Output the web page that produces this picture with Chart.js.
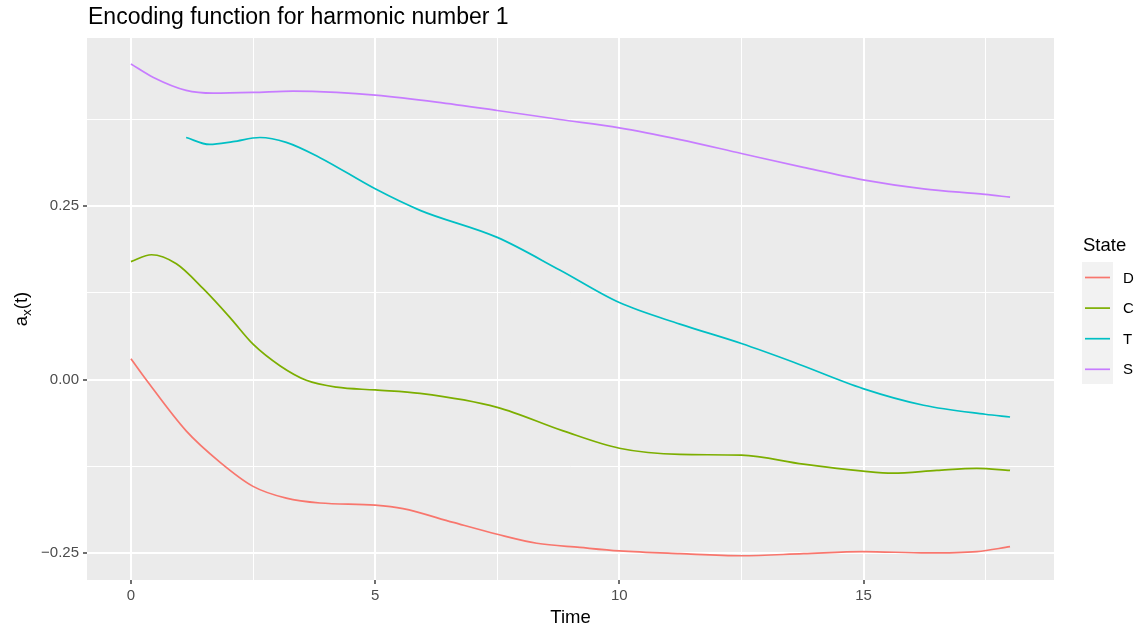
<!DOCTYPE html>
<html>
<head>
<meta charset="utf-8">
<script src="https://cdn.jsdelivr.net/npm/chart.js@4/dist/chart.umd.min.js"></script>
<style>
  html, body { margin: 0; padding: 0; background: #ffffff; }
  #chart { display: block; }
</style>
</head>
<body>
<canvas id="chart" width="1142" height="630"></canvas>
<script>
// series
const states = ['D', 'C', 'T', 'S'];
const stateColors = ['#F8766D', '#7CAE00', '#00BFC4', '#C77CFF'];

const dTime   = [0, 0.32, 1.13, 1.82, 2.5, 3.18, 3.87, 5, 5.57, 6.6, 7.5, 8.31, 9.19, 10, 11.24, 12.5, 13.77, 14.99, 16.3, 17.32, 18];
const dValues = [0.030, -0.001, -0.074, -0.119, -0.154, -0.171, -0.178, -0.181, -0.186, -0.206, -0.223, -0.236, -0.242, -0.247, -0.251, -0.254, -0.251, -0.248, -0.250, -0.248, -0.241];

const cTime   = [0, 0.42, 0.93, 1.48, 2.02, 2.5, 3.05, 3.59, 4.21, 5, 5.92, 7.5, 8.85, 10, 11.24, 12.5, 13.77, 14.99, 15.6, 16.5, 17.32, 18];
const cValues = [0.170, 0.180, 0.167, 0.131, 0.090, 0.051, 0.020, -0.001, -0.011, -0.015, -0.020, -0.040, -0.074, -0.099, -0.108, -0.109, -0.122, -0.132, -0.135, -0.131, -0.128, -0.131];

const tTime   = [1.13, 1.61, 2.09, 2.64, 3.18, 3.87, 5, 5.92, 7.5, 8.78, 10, 11.24, 12.5, 13.57, 14.99, 16.23, 17.49, 18];
const tValues = [0.349, 0.339, 0.343, 0.349, 0.342, 0.320, 0.275, 0.244, 0.205, 0.158, 0.111, 0.080, 0.052, 0.025, -0.013, -0.037, -0.050, -0.054];

const sTime   = [0, 0.45, 1.13, 1.68, 2.5, 3.32, 4.21, 5, 6.26, 7.5, 8.78, 10, 11.24, 12.5, 13.77, 14.99, 16.23, 17.49, 18];
const sValues = [0.455, 0.436, 0.417, 0.413, 0.414, 0.416, 0.414, 0.410, 0.400, 0.388, 0.375, 0.363, 0.346, 0.326, 0.306, 0.288, 0.275, 0.267, 0.263];

const seriesTimes = [dTime, cTime, tTime, sTime];
const seriesValues = [dValues, cValues, tValues, sValues];

// axis breaks (ggplot style: major + minor)
const xGrid = [0, 2.5, 5, 7.5, 10, 12.5, 15, 17.5];
const xLabels = { 0: '0', 5: '5', 10: '10', 15: '15' };
const yGrid = [-0.25, -0.125, 0, 0.125, 0.25, 0.375];
const yLabels = { '-0.25': '\u22120.25', '0': '0.00', '0.25': '0.25' };

const FONT = '"Liberation Sans", Arial, sans-serif';

function isMajorX(v) { return Math.abs(v % 5) < 1e-9; }
function isMajorY(v) { return Math.abs(v * 4 - Math.round(v * 4)) < 1e-9; }

const datasets = states.map((name, i) => ({
  label: name,
  data: seriesTimes[i].map((t, j) => ({ x: t, y: seriesValues[i][j] })),
  borderColor: stateColors[i],
  borderWidth: 1.7,
  pointRadius: 0,
  cubicInterpolationMode: 'monotone',
  fill: false
}));

const ggDecor = {
  id: 'ggDecor',
  beforeDraw(chart) {
    const c = chart.ctx, a = chart.chartArea;
    c.save();
    c.fillStyle = '#ffffff';
    c.fillRect(0, 0, chart.width, chart.height);
    c.fillStyle = '#EBEBEB';
    c.fillRect(a.left, a.top, a.right - a.left, a.bottom - a.top);
    c.restore();
  },
  afterDraw(chart) {
    const c = chart.ctx, a = chart.chartArea;
    c.save();
    // title
    c.fillStyle = '#000000';
    c.font = '23px ' + FONT;
    c.textAlign = 'left';
    c.textBaseline = 'alphabetic';
    c.fillText('Encoding function for harmonic number 1', a.left + 1, 24);

    // x axis title
    c.font = '18.5px ' + FONT;
    c.textAlign = 'center';
    c.fillText('Time', (a.left + a.right) / 2, 623);

    // y axis title with subscript
    c.save();
    c.translate(27, (a.top + a.bottom) / 2);
    c.rotate(-Math.PI / 2);
    c.textAlign = 'left';
    const big = '18.5px ' + FONT;
    const small = '13.5px ' + FONT;
    c.font = big; const wA = c.measureText('a').width;
    c.font = small; const wX = c.measureText('x').width;
    c.font = big; const wT = c.measureText('(t)').width;
    const x0 = -(wA + wX + wT) / 2;
    c.font = big; c.fillText('a', x0, 0);
    c.font = small; c.fillText('x', x0 + wA, 4);
    c.font = big; c.fillText('(t)', x0 + wA + wX, 0);
    c.restore();

    // legend
    c.textAlign = 'left';
    c.font = '18.5px ' + FONT;
    c.fillText('State', 1083, 251);
    c.fillStyle = '#F2F2F2';
    c.fillRect(1082, 262, 31, 122);
    c.font = '15px ' + FONT;
    c.textBaseline = 'middle';
    states.forEach((name, i) => {
      const y = 277.5 + i * 30.6;
      c.strokeStyle = stateColors[i];
      c.lineWidth = 1.7;
      c.beginPath();
      c.moveTo(1085, y);
      c.lineTo(1110, y);
      c.stroke();
      c.fillStyle = '#000000';
      c.fillText(name, 1123, y + 1);
    });
    c.restore();
  }
};

new Chart(document.getElementById('chart'), {
  type: 'line',
  data: { datasets: datasets },
  options: {
    responsive: false,
    animation: false,
    devicePixelRatio: 1,
    layout: { padding: { top: 38, right: 88, left: 0, bottom: 0 } },
    plugins: { legend: { display: false }, tooltip: { enabled: false }, title: { display: false } },
    scales: {
      x: {
        type: 'linear',
        min: -0.9,
        max: 18.9,
        afterBuildTicks(scale) { scale.ticks = xGrid.map(v => ({ value: v })); },
        afterFit(scale) { scale.height = 50; },
        border: { display: false },
        grid: {
          color: '#ffffff',
          lineWidth: ctx => (ctx.tick && isMajorX(ctx.tick.value) ? 2 : 1),
          tickLength: 4,
          tickWidth: 1.4,
          tickColor: ctx => (ctx.tick && isMajorX(ctx.tick.value) ? '#333333' : 'rgba(0,0,0,0)')
        },
        ticks: {
          autoSkip: false,
          maxRotation: 0,
          padding: 3,
          color: '#4D4D4D',
          font: { family: FONT, size: 15 },
          callback: v => (xLabels[v] !== undefined ? xLabels[v] : '')
        }
      },
      y: {
        type: 'linear',
        min: -0.289,
        max: 0.4925,
        afterBuildTicks(scale) { scale.ticks = yGrid.map(v => ({ value: v })); },
        afterFit(scale) { scale.width = 87; },
        border: { display: false },
        grid: {
          color: '#ffffff',
          lineWidth: ctx => (ctx.tick && isMajorY(ctx.tick.value) ? 2 : 1),
          tickLength: 4,
          tickWidth: 1.4,
          tickColor: ctx => (ctx.tick && isMajorY(ctx.tick.value) ? '#333333' : 'rgba(0,0,0,0)')
        },
        ticks: {
          autoSkip: false,
          padding: 4,
          color: '#4D4D4D',
          font: { family: FONT, size: 15 },
          callback: v => (yLabels[String(v)] !== undefined ? yLabels[String(v)] : '')
        }
      }
    }
  },
  plugins: [ggDecor]
});
</script>
</body>
</html>
